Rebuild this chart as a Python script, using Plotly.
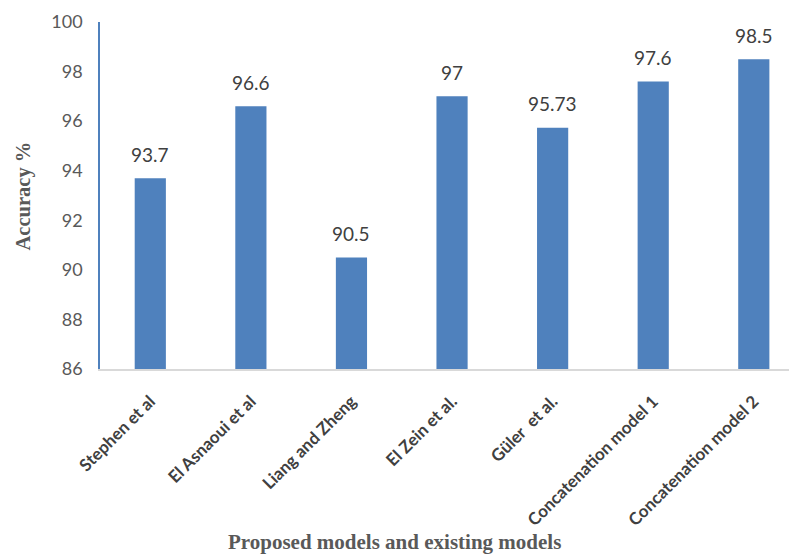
import plotly.graph_objects as go

categories = ["Stephen et al", "El Asnaoui et al", "Liang and Zheng", "El Zein et al.",
              "Güler  et al.", "Concatenation model 1", "Concatenation model 2"]
accuracy = [93.7, 96.6, 90.5, 97, 95.73, 97.6, 98.5]
labels = ["93.7", "96.6", "90.5", "97", "95.73", "97.6", "98.5"]
y_ticks = [86, 88, 90, 92, 94, 96, 98, 100]

fig = go.Figure()
fig.add_trace(go.Bar(
    x=categories, y=accuracy,
    marker=dict(color="#4F81BD", line=dict(width=0)),
    width=0.31,
))

for c, v, t in zip(categories, accuracy, labels):
    fig.add_annotation(x=c, y=v, text=t, showarrow=False, yshift=24,
                       font=dict(family="Lato, Open Sans, sans-serif", size=19, color="#404040"))

fig.add_annotation(x=0.4275, xref="paper", y=-0.54, yref="paper",
                   text="<b>Proposed models and existing models</b>", showarrow=False,
                   font=dict(family="Liberation Serif, Times New Roman, serif", size=21, color="#595959"))
fig.add_annotation(x=-0.13, xref="paper", y=0.5, yref="paper", textangle=-90,
                   text="<b>Accuracy %</b>", showarrow=False,
                   font=dict(family="Liberation Serif, Times New Roman, serif", size=20.5, color="#595959"))

fig.update_layout(
    width=789, height=556,
    margin=dict(l=100, r=0, t=22, b=187, autoexpand=False),
    plot_bgcolor="white", paper_bgcolor="white",
    showlegend=False,
)
fig.update_xaxes(
    range=[-0.5, 6.35], showgrid=False, tickangle=-45,
    showline=True, linecolor="#D9D9D9", linewidth=1.5,
    ticks="", ticklabelstandoff=14,
    tickfont=dict(family="Lato, Open Sans, sans-serif", size=17, color="#404040", weight="bold"),
)
fig.update_yaxes(
    range=[86, 100], tickvals=y_ticks, showgrid=False,
    showline=True, linecolor="#4F81BD", linewidth=1.5, ticks="",
    ticklabelstandoff=12,
    tickfont=dict(family="Lato, Open Sans, sans-serif", size=18, color="#595959"),
    zeroline=False,
)

fig.write_html("out.html")
